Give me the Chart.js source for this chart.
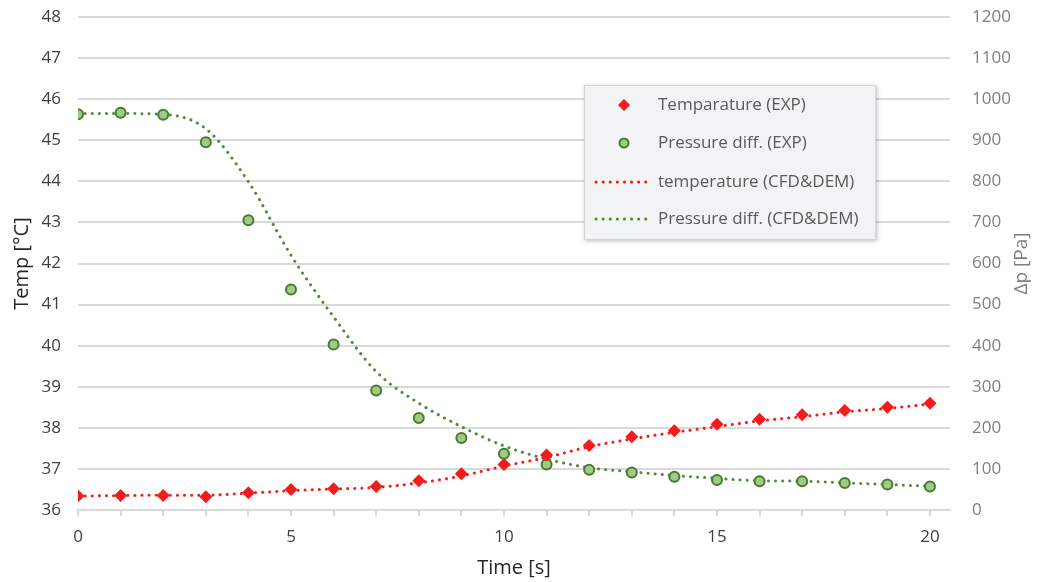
<!DOCTYPE html>
<html><head><meta charset="utf-8">
<script src="https://cdn.jsdelivr.net/npm/chart.js@4.4.1/dist/chart.umd.min.js"></script>
<style>html,body{margin:0;padding:0;background:#fff}#wrap{width:1044px;height:582px}</style>
</head><body><div id="wrap"><canvas id="c" width="1044" height="582"></canvas></div>
<script>
const time = [0,1,2,3,4,5,6,7,8,9,10,11,12,13,14,15,16,17,18,19,20];
const tempExp = [36.34,36.35,36.35,36.32,36.42,36.50,36.52,36.57,36.71,36.88,37.11,37.34,37.57,37.78,37.93,38.09,38.21,38.32,38.42,38.50,38.60];
const presExp = [963,967,962,895,705,537,403,291,224,175,137,111,98,91,81,73,70,70,66,62,57];
const tempCfd = [36.34,36.35,36.36,36.36,36.41,36.47,36.51,36.55,36.66,36.83,37.07,37.28,37.54,37.73,37.89,38.03,38.17,38.27,38.39,38.47,38.58];
const presCfd = [965,965,963,928,799,620,470,337,260,203,156,124,103,93,84,77,71,70,66,62,58];
const xTickLabels = [0,5,10,15,20];
const tempTicks = [36,48,1];
const presTicks = [0,1200,100];
const presTitle = 'Δp [Pa]';

const pts = (xs, ys) => xs.map((x,i)=>({x:x, y:ys[i]}));
const RED = '#f21c1c', GREEN_D = '#4a7a2e', GREEN_F = '#9fcc85', GREEN_L = '#548a35';
const FONT = 'Open Sans';
Chart.defaults.font.family = FONT;

const legendPlugin = {
  id: 'boxLegend',
  afterDraw(chart) {
    const ctx = chart.ctx;
    // right axis title, reading bottom-to-top
    ctx.save();
    ctx.translate(1022, (chart.chartArea.top + chart.chartArea.bottom) / 2);
    ctx.rotate(-Math.PI / 2);
    ctx.fillStyle = '#7f7f7f'; ctx.font = '19px "' + FONT + '"';
    ctx.textAlign = 'center'; ctx.textBaseline = 'middle';
    ctx.fillText(presTitle, 0, 0);
    ctx.restore();

    const bx = 584, by = 85, bw = 292, bh = 155;
    ctx.save();
    ctx.shadowColor = 'rgba(0,0,0,0.25)'; ctx.shadowBlur = 4; ctx.shadowOffsetX = 1; ctx.shadowOffsetY = 1;
    ctx.fillStyle = '#f2f3f5'; ctx.fillRect(bx, by, bw, bh);
    ctx.shadowColor = 'transparent';
    ctx.strokeStyle = '#d4d4d4'; ctx.lineWidth = 1; ctx.strokeRect(bx+0.5, by+0.5, bw-1, bh-1);
    const rows = [105, 143, 182, 219];
    chart.data.datasets.forEach((ds, i) => {
      const y = rows[i];
      if (ds.showLine) {
        ctx.save();
        ctx.strokeStyle = ds.borderColor; ctx.lineWidth = 3; ctx.lineCap = 'round';
        ctx.setLineDash([0.1, 7]);
        ctx.beginPath(); ctx.moveTo(596, y); ctx.lineTo(650, y); ctx.stroke();
        ctx.restore();
      } else if (ds.pointStyle === 'rectRot') {
        ctx.fillStyle = ds.pointBackgroundColor;
        ctx.beginPath(); ctx.moveTo(624, y-6); ctx.lineTo(630, y); ctx.lineTo(624, y+6); ctx.lineTo(618, y); ctx.closePath(); ctx.fill();
      } else {
        ctx.fillStyle = ds.pointBackgroundColor; ctx.strokeStyle = ds.pointBorderColor; ctx.lineWidth = 2;
        ctx.beginPath(); ctx.arc(624, y, 4.5, 0, Math.PI*2); ctx.fill(); ctx.stroke();
      }
      ctx.fillStyle = '#595959'; ctx.font = '17px "' + FONT + '"'; ctx.textBaseline = 'middle'; ctx.textAlign = 'left';
      ctx.fillText(ds.label, 658, y);
    });
    ctx.restore();
  }
};

const noVPad = (s, w) => { s.width = w; s.paddingTop = 0; s.paddingBottom = 0; };

new Chart(document.getElementById('c'), {
  type: 'scatter',
  data: { datasets: [
    { label: 'Temparature (EXP)', data: pts(time, tempExp), yAxisID: 'yT', showLine: false,
      pointStyle: 'rectRot', pointRadius: 6.5, pointBackgroundColor: RED, pointBorderColor: RED, pointBorderWidth: 0, order: 0 },
    { label: 'Pressure diff. (EXP)', data: pts(time, presExp), yAxisID: 'yP', showLine: false,
      pointStyle: 'circle', pointRadius: 5, pointBackgroundColor: GREEN_F, pointBorderColor: GREEN_D, pointBorderWidth: 2, order: 0 },
    { label: 'temperature (CFD&DEM)', data: pts(time, tempCfd), yAxisID: 'yT', showLine: true,
      borderColor: RED, borderWidth: 3, borderDash: [0.1, 7], borderCapStyle: 'round', cubicInterpolationMode: 'monotone',
      pointRadius: 0, order: 1 },
    { label: 'Pressure diff. (CFD&DEM)', data: pts(time, presCfd), yAxisID: 'yP', showLine: true,
      borderColor: GREEN_L, borderWidth: 3, borderDash: [0.1, 7], borderCapStyle: 'round', cubicInterpolationMode: 'monotone',
      pointRadius: 0, order: 1 }
  ]},
  options: {
    responsive: false, animation: false,
    layout: { padding: { top: 17, left: 0, right: 0, bottom: 0 } },
    plugins: { legend: { display: false }, tooltip: { enabled: false } },
    scales: {
      x: {
        type: 'linear', min: 0, max: 20.47,
        afterBuildTicks: (s) => { s.ticks = time.map(v => ({ value: v })); },
        afterFit: (s) => { s.height = 72; },
        ticks: { autoSkip: false, maxRotation: 0, padding: 11, color: '#404040', font: { size: 17 },
          callback: (v) => xTickLabels.includes(v) ? String(v) : '' },
        grid: { drawOnChartArea: false, drawTicks: true, tickLength: 6, color: '#d9d9d9', lineWidth: 2 },
        border: { display: true, color: '#d9d9d9', width: 2 },
        title: { display: true, text: 'Time [s]', color: '#262626', font: { size: 20 }, padding: { top: 2, bottom: 2 } }
      },
      yT: {
        type: 'linear', position: 'left', min: tempTicks[0], max: tempTicks[1],
        afterFit: (s) => noVPad(s, 78),
        ticks: { stepSize: tempTicks[2], color: '#404040', font: { size: 17 }, padding: 17 },
        grid: { color: '#d9d9d9', lineWidth: 2, drawTicks: false },
        border: { display: false },
        title: { display: true, text: 'Temp [°C]', color: '#262626', font: { size: 20 }, padding: { top: 10, bottom: 0 } }
      },
      yP: {
        type: 'linear', position: 'right', min: presTicks[0], max: presTicks[1],
        afterFit: (s) => noVPad(s, 94),
        ticks: { stepSize: presTicks[2], color: '#7f7f7f', font: { size: 17 }, padding: 22, callback: (v) => String(v) },
        grid: { drawOnChartArea: false, drawTicks: false },
        border: { display: false },
        title: { display: false }
      }
    }
  },
  plugins: [legendPlugin]
});
</script></body></html>
